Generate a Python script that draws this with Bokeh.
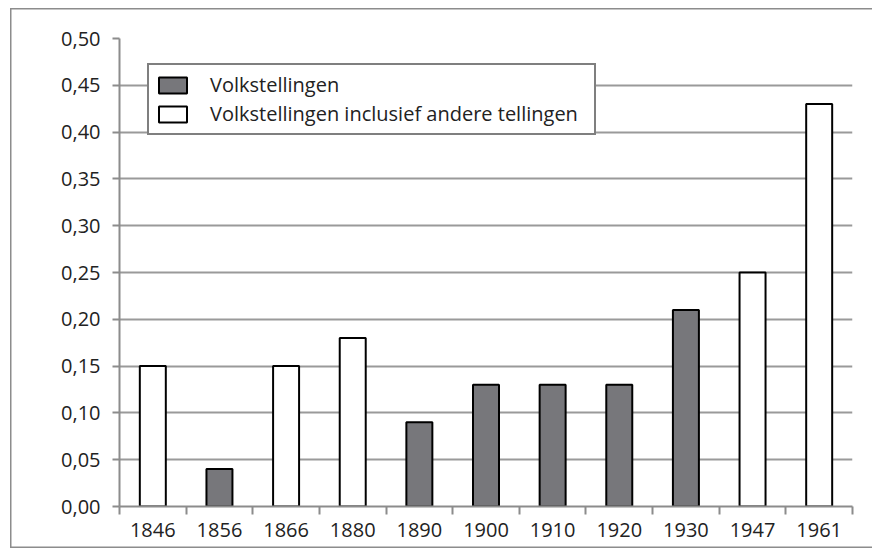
from bokeh.plotting import figure
from bokeh.models import (ColumnDataSource, FixedTicker, CustomJSTickFormatter, Legend,
                          LegendItem, Range1d)
from bokeh.embed import file_html
from bokeh.resources import INLINE

# ---- data ----
years = ["1846", "1856", "1866", "1880", "1890", "1900", "1910", "1920", "1930", "1947", "1961"]
volkstellingen = [None, 0.04, None, None, 0.09, 0.13, 0.13, 0.13, 0.21, None, None]
inclusief_andere = [0.15, None, 0.15, 0.18, None, None, None, None, None, 0.25, 0.43]
y_ticks = [0.0, 0.05, 0.10, 0.15, 0.20, 0.25, 0.30, 0.35, 0.40, 0.45, 0.50]

FONT = "Open Sans"

def src(vals):
    xs, tops = [], []
    for i, v in enumerate(vals):
        if v is not None:
            xs.append(i + 0.5)
            tops.append(v)
    return ColumnDataSource(dict(x=xs, top=tops))

p = figure(frame_width=733, frame_height=468,
           x_range=Range1d(0, len(years)), y_range=Range1d(0, 0.5),
           output_backend="svg", toolbar_location=None,
           min_border_left=119, min_border_top=38, min_border_right=20, min_border_bottom=45)
p.outline_line_color = None
p.background_fill_color = "white"
p.border_fill_color = None
# outer chart border (left, top, bottom), drawn behind the canvas content
p.styles = {"box-shadow": ("inset 10px 8px 0 0 white, inset 0 -3px 0 0 white, "
                           "inset 11.5px 9.5px 0 0 #8c8c8c, inset 0 -4.5px 0 0 #8c8c8c")}

r1 = p.vbar(x="x", top="top", bottom=0, width=0.39, source=src(volkstellingen),
            fill_color="#77777b", line_color="black", line_width=2)
r2 = p.vbar(x="x", top="top", bottom=0, width=0.39, source=src(inclusief_andere),
            fill_color="white", line_color="black", line_width=2)

# axes
centers = [i + 0.5 for i in range(len(years))]
p.xaxis.ticker = FixedTicker(ticks=centers, minor_ticks=list(range(len(years) + 1)))
p.xaxis.major_label_overrides = {c: y for c, y in zip(centers, years)}
p.xaxis.major_tick_out = 0
p.xaxis.major_tick_in = 0
p.xaxis.minor_tick_out = 8
p.xaxis.minor_tick_in = 0
p.xaxis.minor_tick_line_color = "#8c8c8c"
p.xaxis.minor_tick_line_width = 2
p.xaxis.major_label_standoff = 8

p.yaxis.ticker = FixedTicker(ticks=y_ticks)
p.yaxis.formatter = CustomJSTickFormatter(code="return tick.toFixed(2).replace('.', ',');")
p.yaxis.major_tick_out = 7
p.yaxis.major_tick_in = 0
p.yaxis.minor_tick_out = 0
p.yaxis.minor_tick_in = 0
p.yaxis.major_tick_line_color = "#8c8c8c"
p.yaxis.major_tick_line_width = 2
p.yaxis.major_label_standoff = 12

for ax in (p.xaxis, p.yaxis):
    ax.axis_line_color = "#8c8c8c"
    ax.axis_line_width = 2
    ax.major_label_text_font = FONT
    ax.major_label_text_font_size = "20px"
    ax.major_label_text_color = "#222222"

p.xgrid.grid_line_color = None
p.ygrid.ticker = FixedTicker(ticks=y_ticks)
p.ygrid.grid_line_color = "#9a9a9a"
p.ygrid.grid_line_width = 2

legend = Legend(items=[LegendItem(label="Volkstellingen", renderers=[r1]),
                       LegendItem(label="Volkstellingen inclusief andere tellingen", renderers=[r2])],
                location=(28, 371))
legend.border_line_color = "black"
legend.border_line_width = 2
legend.background_fill_color = "white"
legend.background_fill_alpha = 1
legend.label_text_font = FONT
legend.label_text_font_size = "20px"
legend.label_text_color = "#222222"
legend.glyph_width = 35
legend.glyph_height = 20
legend.label_height = 20
legend.label_width = 378
legend.label_standoff = 20
legend.spacing = 2
legend.padding = 6
legend.margin = 0
p.add_layout(legend, "center")

open("out.html", "w").write(file_html(p, INLINE))
